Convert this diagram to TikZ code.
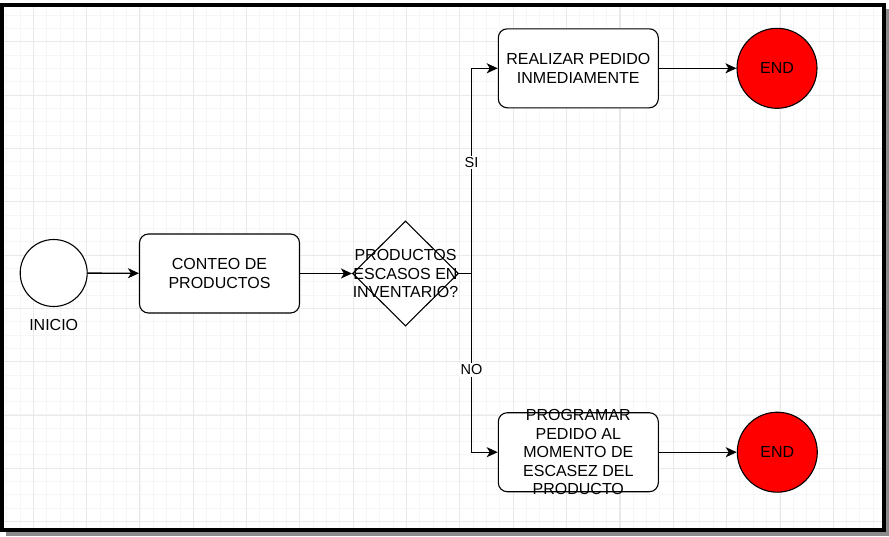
\documentclass[tikz,border=0pt]{standalone}
\usepackage{fontspec}
\setmainfont{Liberation Sans}
\usetikzlibrary{shapes.geometric,arrows.meta}
\definecolor{gridminor}{RGB}{246,246,246}
\definecolor{gridmajor}{RGB}{233,233,233}
\definecolor{shadowgray}{RGB}{140,140,140}
\definecolor{endred}{RGB}{255,0,0}
\begin{document}
\begin{tikzpicture}[x=1pt,y=-1pt,line cap=round,
	font=\fontsize{16}{18.4}\selectfont,
	startnode/.style={circle,draw,line width=1.1pt,fill=white,minimum size=67pt,inner sep=0pt},
	endnode/.style={circle,draw,line width=1.1pt,fill=endred,minimum size=80pt,inner sep=0pt},
	taskbox/.style={rectangle,rounded corners=9pt,draw,line width=1.1pt,fill=white,minimum width=160pt,minimum height=79pt,align=center,inner sep=0pt},
	decision/.style={diamond,draw,line width=1.1pt,fill=white,minimum width=106pt,minimum height=105pt,inner sep=0pt},
	flow/.style={line width=1.3pt,-{Stealth[length=11pt,width=10pt,inset=3pt]}},
	branch/.style={fill=white,inner sep=1.5pt,font=\fontsize{14.5}{16}\selectfont}]
	\useasboundingbox (0,0) rectangle (889,536);
	\fill[white] (0,0) rectangle (889,536);
	%frame and grid
	\fill[shadowgray] (6,9) rectangle (889,536);
	\fill[white] (2,4.5) rectangle (883.5,529.5);
	\begin{scope}
		\clip (2,4.5) rectangle (883.5,529.5);
		\foreach \i in {0,...,66} \draw[gridminor,line width=1pt] (6.67+13.333*\i,0) -- (6.67+13.333*\i,536);
		\foreach \i in {0,...,40} \draw[gridminor,line width=1pt] (0,1.67+13.333*\i) -- (889,1.67+13.333*\i);
		\foreach \i in {0,...,16} \draw[gridmajor,line width=1pt] (33.33+53.333*\i,0) -- (33.33+53.333*\i,536);
		\foreach \i in {0,...,9} \draw[gridmajor,line width=1pt] (0,41.67+53.333*\i) -- (889,41.67+53.333*\i);
	\end{scope}
	\draw[black,line width=4pt] (2,4.5) rectangle (883.5,529.5);
	%nodes
	\node[startnode] (inicio) at (53.7,273) {};
	\node (inicio label) at (53.7,325) {INICIO};
	\node[taskbox] (conteo) at (219.5,273.5) {CONTEO DE\\PRODUCTOS};
	\node[decision,label={[align=center,inner sep=0pt]center:PRODUCTOS\\ESCASOS EN\\INVENTARIO?}] (escasos) at (405.5,273.5) {};
	\coordinate (split) at (471.5,273.5);
	\node[taskbox] (realizar) at (578.3,68.3) {REALIZAR PEDIDO\\INMEDIAMENTE};
	\node[taskbox,label={[align=center,inner sep=0pt]center:PROGRAMAR\\PEDIDO AL\\MOMENTO DE\\ESCASEZ DEL\\PRODUCTO}] (programar) at (578.3,452.2) {};
	\node[endnode] (end si) at (777,68.3) {END};
	\node[endnode] (end no) at (777.3,452.2) {END};
	%connectors
	\draw[flow] (inicio) -- (conteo);
	\draw[flow] (conteo) -- (escasos);
	\draw[line width=1.3pt] (escasos.east) -- (split);
	\draw[flow] (split) |- (realizar.west) node[branch,pos=0.27] {SI};
	\draw[flow] (split) |- (programar.west) node[branch,pos=0.27] {NO};
	\draw[flow] (realizar) -- (end si);
	\draw[flow] (programar) -- (end no);
\end{tikzpicture}
\end{document}
